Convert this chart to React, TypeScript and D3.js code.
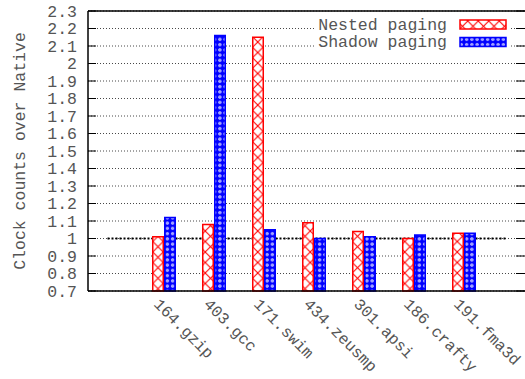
import React from "react";
import * as d3 from "d3";

const categories = ["164.gzip", "403.gcc", "171.swim", "434.zeusmp", "301.apsi", "186.crafty", "191.fma3d"];
const nestedPaging = [1.01, 1.08, 2.15, 1.09, 1.04, 1.0, 1.03];
const shadowPaging = [1.12, 2.16, 1.05, 1.0, 1.01, 1.02, 1.03];
const yTicks = [0.7, 0.8, 0.9, 1, 1.1, 1.2, 1.3, 1.4, 1.5, 1.6, 1.7, 1.8, 1.9, 2, 2.1, 2.2, 2.3];
const seriesNames = ["Nested paging", "Shadow paging"];

const W = 525;
const H = 379;
const left = 88;
const right = 540;
const top = 11;
const bottom = 291;
const font = "'Liberation Mono', 'DejaVu Sans Mono', monospace";
const textColor = "#555";
const fs = 16.5;

export default function App() {
  const x = d3.scaleLinear().domain([-1.52, categories.length + 0.52]).range([left, right]);
  const y = d3.scaleLinear().domain([0.7, 2.3]).range([bottom, top]);
  const barW = 10.5;
  const gap = 1.5;
  const firstRedX = x(0) - gap / 2 - barW;
  const firstBlueX = x(0) + gap / 2;
  const cell = barW / 2;

  return (
    <svg width={W} height={H} style={{ position: "absolute", left: 0, top: 0, background: "#fff" }}>
      <defs>
        <pattern id="hatchRed" patternUnits="userSpaceOnUse" x={firstRedX} y={0} width={barW} height={barW}>
          <rect width={barW} height={barW} fill="#fff" />
          <path d={`M0,0L${barW},${barW}M${barW},0L0,${barW}`} stroke="#f00" strokeWidth={1.1} />
        </pattern>
        <pattern id="hatchBlue" patternUnits="userSpaceOnUse" x={firstBlueX} y={0} width={cell} height={cell}>
          <rect width={cell} height={cell} fill="#00f" />
          <circle cx={cell / 2} cy={cell / 2} r={1.6} fill="#fff" />
          <circle cx={cell / 2} cy={cell / 2} r={0.6} fill="#00f" />
        </pattern>
      </defs>

      {/* horizontal grid */}
      {yTicks.map((t) => (
        <line key={"g" + t} x1={left} x2={right} y1={y(t)} y2={y(t)} stroke="#333" strokeWidth={0.9} strokeDasharray="1,2" />
      ))}

      {/* reference line at 1.0 */}
      <line x1={x(-1.13)} x2={x(6.83)} y1={y(1)} y2={y(1)} stroke="#000" strokeWidth={2} strokeDasharray="2,2" />

      {/* bars */}
      {categories.map((c, i) => (
        <g key={c}>
          <rect
            x={x(i) - gap / 2 - barW}
            y={y(nestedPaging[i])}
            width={barW}
            height={y(0.7) - y(nestedPaging[i])}
            fill="url(#hatchRed)"
            stroke="#f00"
            strokeWidth={1.5}
          />
          <rect
            x={x(i) + gap / 2}
            y={y(shadowPaging[i])}
            width={barW}
            height={y(0.7) - y(shadowPaging[i])}
            fill="url(#hatchBlue)"
            stroke="#00f"
            strokeWidth={1.5}
          />
        </g>
      ))}

      {/* legend */}
      <rect x={314} y={14} width={196} height={38} fill="#fff" />
      {seriesNames.map((s, i) => (
        <g key={s}>
          <text x={447} y={29.5 + i * 17.5} textAnchor="end" fontFamily={font} fontSize={fs} fill={textColor}>
            {s}
          </text>
          <rect
            x={460}
            y={20 + i * 17.5}
            width={46}
            height={9}
            fill={i === 0 ? "url(#hatchRed)" : "url(#hatchBlue)"}
            stroke={i === 0 ? "#f00" : "#00f"}
            strokeWidth={1.5}
          />
        </g>
      ))}

      {/* axes frame */}
      <line x1={left} x2={right} y1={top} y2={top} stroke="#000" strokeWidth={1.5} />
      <line x1={left} x2={right} y1={bottom} y2={bottom} stroke="#000" strokeWidth={1.5} />
      <line x1={left} x2={left} y1={top} y2={bottom} stroke="#000" strokeWidth={1.5} />
      {yTicks.map((t) => (
        <g key={"t" + t}>
          <line x1={left} x2={left + 8} y1={y(t)} y2={y(t)} stroke="#000" strokeWidth={1} />
          <line x1={W - 9} x2={W} y1={y(t)} y2={y(t)} stroke="#000" strokeWidth={1} />
          <text x={77} y={y(t)} dy="0.35em" textAnchor="end" fontFamily={font} fontSize={fs} fill={textColor}>
            {String(t)}
          </text>
        </g>
      ))}

      {/* category labels */}
      {categories.map((c, i) => (
        <text
          key={"l" + c}
          transform={`translate(${x(i) - 11},${bottom + 14}) rotate(45)`}
          fontFamily={font}
          fontSize={16}
          fill={textColor}
        >
          {c}
        </text>
      ))}

      {/* y axis title */}
      <text
        transform={`translate(25,151) rotate(-90)`}
        textAnchor="middle"
        fontFamily={font}
        fontSize={fs}
        fill={textColor}
      >
        Clock counts over Native
      </text>
    </svg>
  );
}
